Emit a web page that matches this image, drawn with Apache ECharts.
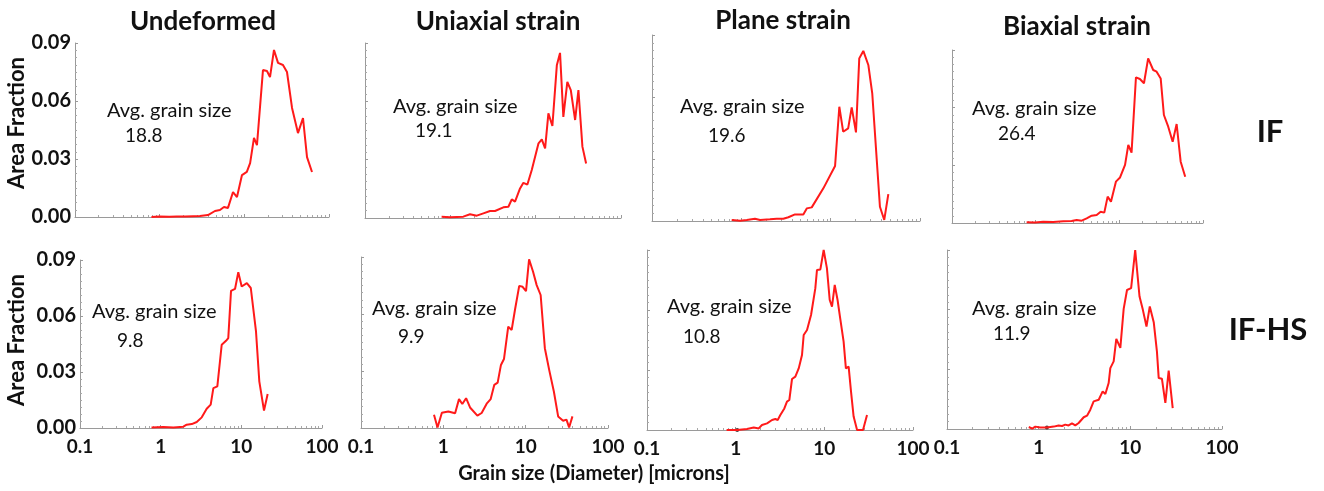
<!DOCTYPE html>
<html>
<head>
<meta charset="utf-8">
<script src="https://cdn.jsdelivr.net/npm/echarts@6/dist/echarts.min.js"></script>
<style>
  html, body { margin: 0; padding: 0; background: #ffffff; }
  #chart { width: 1324px; height: 491px; }
</style>
</head>
<body>
<div id="chart"></div>
<script>
// Grain size distributions (area fraction vs. grain diameter, microns)
const conditions = ['Undeformed', 'Uniaxial strain', 'Plane strain', 'Biaxial strain'];
const steels = ['IF', 'IF-HS'];
const avgSizeIF = [18.8, 19.1, 19.6, 26.4];
const avgSizeIFHS = [9.8, 9.9, 10.8, 11.9];
const xTicks = [0.1, 1, 10, 100];
const yTicks = [0, 0.03, 0.06, 0.09];

// IF steel
const ifUndeformedX = [0.8, 1.0, 1.3, 1.6, 2.0, 2.5, 2.99, 3.72, 4.50, 5.15, 5.75, 6.41, 7.35, 8.19, 9.38, 10.7, 11.7, 13.0, 14.1, 16.6, 18.5, 20.1, 22.4, 25.0, 28.6, 31.9, 36.6, 43.0, 49.3, 55.0, 63.0];
const ifUndeformedY = [0.0000, 0.0002, 0.0001, 0.0003, 0.0002, 0.0004, 0.0005, 0.0010, 0.0031, 0.0036, 0.0052, 0.0047, 0.0129, 0.0103, 0.0217, 0.0233, 0.0279, 0.0409, 0.0372, 0.0760, 0.0755, 0.0724, 0.0864, 0.0797, 0.0786, 0.0750, 0.0564, 0.0434, 0.0512, 0.0310, 0.0233];

const ifUniaxialX = [0.79, 0.99, 1.42, 1.70, 2.04, 2.44, 2.92, 3.34, 4.18, 4.79, 5.25, 5.73, 6.56, 7.18, 8.0, 9.0, 10.8, 11.8, 12.9, 14.1, 15.7, 17.7, 19.3, 21.1, 23.5, 25.8, 29.0, 31.7, 35.3, 39.0];
const ifUniaxialY = [0.0007, 0.0004, 0.0007, 0.0019, 0.0012, 0.0024, 0.0036, 0.0036, 0.0055, 0.0058, 0.0096, 0.0084, 0.0152, 0.0181, 0.0172, 0.0247, 0.0384, 0.0404, 0.0358, 0.0538, 0.0473, 0.0785, 0.0849, 0.0520, 0.0700, 0.0658, 0.0504, 0.0658, 0.0367, 0.0280];

const ifPlaneX = [0.78, 0.97, 1.15, 1.42, 1.62, 2.09, 2.49, 2.95, 3.36, 3.99, 4.94, 5.40, 6.14, 8.28, 11.2, 12.5, 13.8, 15.7, 17.2, 19.2, 20.9, 23.2, 26.4, 29.2, 35.6, 39.8, 44.2];
const ifPlaneY = [0.0005, 0.0001, 0.0005, 0.0011, 0.0005, 0.0008, 0.0011, 0.0011, 0.0018, 0.0032, 0.0032, 0.0061, 0.0066, 0.0158, 0.0266, 0.0553, 0.0432, 0.0448, 0.0550, 0.0429, 0.0787, 0.0823, 0.0755, 0.0618, 0.0069, 0.0005, 0.0130];

const ifBiaxialX = [0.78, 0.98, 1.23, 1.62, 2.14, 2.69, 3.09, 3.55, 4.07, 4.67, 5.36, 5.98, 6.61, 7.25, 7.94, 9.10, 10.2, 11.7, 12.8, 14.0, 15.8, 17.6, 19.7, 22.1, 25.4, 27.9, 31.2, 34.1, 38.4, 43.4, 48.4, 54.1, 61.3];
const ifBiaxialY = [0.0004, 0.0002, 0.0007, 0.0005, 0.0009, 0.0010, 0.0016, 0.0012, 0.0024, 0.0038, 0.0042, 0.0059, 0.0054, 0.0137, 0.0111, 0.0215, 0.0237, 0.0302, 0.0406, 0.0366, 0.0758, 0.0749, 0.0727, 0.0856, 0.0796, 0.0787, 0.0752, 0.0562, 0.0501, 0.0423, 0.0515, 0.0319, 0.0241];

// IF-HS steel
const ifhsUndeformedX = [0.77, 1.08, 1.44, 1.91, 2.10, 2.43, 2.80, 3.23, 3.72, 4.17, 4.50, 5.04, 5.71, 6.46, 6.89, 7.45, 8.35, 9.17, 10.1, 11.7, 13.1, 15.2, 16.7, 19.1, 21.2];
const ifhsUndeformedY = [0.0003, 0.0005, 0.0003, 0.0007, 0.0018, 0.0021, 0.0032, 0.0057, 0.0103, 0.0125, 0.0214, 0.0223, 0.0446, 0.0467, 0.0482, 0.0735, 0.0745, 0.0835, 0.0758, 0.0776, 0.0750, 0.0517, 0.0250, 0.0093, 0.0182];

const ifhsUniaxialX = [0.77, 0.85, 0.96, 1.15, 1.39, 1.55, 1.70, 1.89, 2.11, 2.59, 2.92, 3.36, 3.76, 4.16, 4.57, 5.01, 5.45, 6.14, 6.76, 7.41, 8.35, 9.18, 10.1, 11.0, 12.3, 13.6, 15.2, 17.1, 19.3, 22.0, 24.8, 28.5, 31.3, 33.7, 37.0];
const ifhsUniaxialY = [0.0070, 0.0003, 0.0080, 0.0087, 0.0078, 0.0152, 0.0126, 0.0157, 0.0108, 0.0065, 0.0079, 0.0128, 0.0152, 0.0227, 0.0239, 0.0332, 0.0363, 0.0533, 0.0516, 0.0621, 0.0748, 0.0743, 0.0720, 0.0888, 0.0822, 0.0752, 0.0700, 0.0420, 0.0306, 0.0192, 0.0061, 0.0038, 0.0044, 0.0003, 0.0061];

const ifhsPlaneX = [0.79, 1.04, 1.34, 1.60, 1.82, 1.98, 2.26, 2.57, 2.80, 2.98, 3.19, 3.54, 3.79, 4.03, 4.32, 4.71, 5.14, 5.60, 5.85, 6.38, 7.08, 7.91, 8.26, 9.02, 9.83, 10.7, 11.5, 12.2, 13.1, 14.1, 15.1, 16.5, 17.5, 18.8, 20.0, 21.4, 23.4, 27.3, 30.3];
const ifhsPlaneY = [0.0000, 0.0000, 0.0005, 0.0012, 0.0008, 0.0025, 0.0033, 0.0050, 0.0055, 0.0050, 0.0075, 0.0108, 0.0142, 0.0150, 0.0255, 0.0267, 0.0308, 0.0375, 0.0475, 0.0500, 0.0575, 0.0708, 0.0800, 0.0803, 0.0900, 0.0808, 0.0650, 0.0617, 0.0725, 0.0650, 0.0558, 0.0442, 0.0308, 0.0317, 0.0192, 0.0067, 0.0000, 0.0000, 0.0075];

const ifhsBiaxialX = [0.78, 0.85, 0.92, 1.04, 1.23, 1.46, 1.65, 1.80, 1.95, 2.12, 2.31, 2.51, 2.73, 3.10, 3.37, 3.66, 3.98, 4.52, 4.99, 5.34, 5.80, 6.05, 6.58, 7.03, 7.78, 8.46, 9.20, 10.2, 11.3, 12.6, 13.7, 15.0, 16.3, 18.0, 19.5, 20.4, 22.1, 24.1, 26.2, 29.0];
const ifhsBiaxialY = [0.0010, 0.0002, 0.0012, 0.0008, 0.0008, 0.0012, 0.0018, 0.0015, 0.0022, 0.0018, 0.0028, 0.0018, 0.0030, 0.0059, 0.0067, 0.0097, 0.0139, 0.0147, 0.0189, 0.0176, 0.0231, 0.0306, 0.0340, 0.0453, 0.0408, 0.0604, 0.0699, 0.0708, 0.0900, 0.0666, 0.0599, 0.0515, 0.0616, 0.0537, 0.0390, 0.0256, 0.0253, 0.0131, 0.0293, 0.0105];

// small black cursor dots sitting near d = 1 in two IF-HS panels
const ifhsPlaneDot = [[1.04, 0.0000]];
const ifhsBiaxialDot = [[1.23, 0.0008]];

const curvesX = [ifUndeformedX, ifUniaxialX, ifPlaneX, ifBiaxialX, ifhsUndeformedX, ifhsUniaxialX, ifhsPlaneX, ifhsBiaxialX];
const curvesY = [ifUndeformedY, ifUniaxialY, ifPlaneY, ifBiaxialY, ifhsUndeformedY, ifhsUniaxialY, ifhsPlaneY, ifhsBiaxialY];
const avgSizes = avgSizeIF.concat(avgSizeIFHS);

// panel boxes: left, top, width, height (pixels)
const panels = [
  [75, 43, 254, 174],
  [365, 43, 256, 175],
  [652, 35, 268, 186],
  [952, 50, 251, 173],
  [80, 260, 242, 168],
  [361, 257, 247, 171],
  [647, 250, 266, 180],
  [947, 250, 275, 179]
];
// annotation anchors: [textLeft, textY, valueLeft, valueY]
const notePos = [
  [107, 112, 125, 137],
  [393, 108, 415, 132],
  [680, 108, 708, 137],
  [972, 110, 998, 135],
  [92, 313, 117, 342],
  [372, 310, 398, 338],
  [667, 308, 683, 338],
  [972, 310, 993, 335]
];
const titlePos = [[203, 22], [498, 22], [783, 21], [1077, 27]];
const rowLabelPos = [[1270, 132], [1268, 330]];

const FONT = 'Lato, "Open Sans", sans-serif';
const axisGray = '#9a9a9a';

const grids = [], xAxes = [], yAxes = [], series = [], graphics = [];

panels.forEach((p, i) => {
  const bottomRow = i >= 4;
  const firstCol = i % 4 === 0;
  grids.push({ left: p[0], top: p[1], width: p[2], height: p[3], containLabel: false, outerBoundsMode: 'none' });
  xAxes.push({
    type: 'log', logBase: 10, gridIndex: i, min: xTicks[0], max: xTicks[xTicks.length - 1],
    axisLine: { show: true, onZero: false, lineStyle: { color: axisGray, width: 1 } },
    axisTick: { show: true, inside: true, length: 3, lineStyle: { color: axisGray } },
    minorTick: { show: true, splitNumber: 10, length: 2, lineStyle: { color: '#a8a8a8' } },
    splitLine: { show: false },
    axisLabel: {
      show: bottomRow, margin: 9, color: '#111', fontFamily: FONT, fontWeight: 'bold', fontSize: 19,
      formatter: v => String(xTicks.find(t => Math.abs(Math.log10(t) - Math.log10(v)) < 1e-6) ?? v)
    }
  });
  yAxes.push({
    type: 'value', gridIndex: i, min: yTicks[0], max: yTicks[yTicks.length - 1], interval: yTicks[1] - yTicks[0],
    axisLine: { show: true, lineStyle: { color: axisGray, width: 1 } },
    axisTick: { show: true, inside: true, length: 3, lineStyle: { color: axisGray } },
    minorTick: { show: true, splitNumber: 8, length: 2, lineStyle: { color: '#a8a8a8' } },
    splitLine: { show: false },
    axisLabel: {
      show: firstCol, margin: 4, color: '#111', fontFamily: FONT, fontWeight: 'bold', fontSize: 20,
      formatter: v => v.toFixed(2)
    }
  });
  series.push({
    type: 'line', xAxisIndex: i, yAxisIndex: i,
    data: curvesX[i].map((x, k) => [x, curvesY[i][k]]),
    showSymbol: false, symbol: 'none', smooth: false,
    lineStyle: { color: '#ff1a1a', width: 2 },
    silent: true, animation: false
  });

  const n = notePos[i];
  graphics.push({
    type: 'text', left: n[0], top: n[1] - 11,
    style: { text: 'Avg. grain size', font: `20px ${FONT}`, fill: '#111' }
  });
  graphics.push({
    type: 'text', left: n[2], top: n[3] - 11,
    style: { text: avgSizes[i].toFixed(1), font: `19px ${FONT}`, fill: '#111' }
  });
});

series.push({
  type: 'scatter', xAxisIndex: 6, yAxisIndex: 6, data: ifhsPlaneDot,
  symbolSize: 4, itemStyle: { color: '#111' }, silent: true, animation: false
});
series.push({
  type: 'scatter', xAxisIndex: 7, yAxisIndex: 7, data: ifhsBiaxialDot,
  symbolSize: 4, itemStyle: { color: '#111' }, silent: true, animation: false
});

conditions.forEach((c, i) => {
  graphics.push({
    type: 'text', x: titlePos[i][0], y: titlePos[i][1],
    style: { text: c, font: `bold 26px ${FONT}`, fill: '#111', textAlign: 'center', textVerticalAlign: 'middle' }
  });
});
steels.forEach((s, i) => {
  graphics.push({
    type: 'text', x: rowLabelPos[i][0], y: rowLabelPos[i][1],
    style: { text: s, font: `bold 31px ${FONT}`, fill: '#111', textAlign: 'center', textVerticalAlign: 'middle' }
  });
});
[[17, 123], [17, 340]].forEach(pt => {
  graphics.push({
    type: 'text', x: pt[0], y: pt[1], rotation: Math.PI / 2,
    style: { text: 'Area Fraction', font: `bold 22px ${FONT}`, fill: '#111', textAlign: 'center', textVerticalAlign: 'middle' }
  });
});
graphics.push({
  type: 'text', x: 594, y: 474,
  style: { text: 'Grain size (Diameter) [microns]', font: `bold 20px ${FONT}`, fill: '#111', textAlign: 'center', textVerticalAlign: 'middle' }
});

const chart = echarts.init(document.getElementById('chart'), null, { renderer: 'canvas' });
chart.setOption({
  backgroundColor: '#ffffff',
  animation: false,
  grid: grids,
  xAxis: xAxes,
  yAxis: yAxes,
  series: series,
  graphic: graphics
});
</script>
</body>
</html>
